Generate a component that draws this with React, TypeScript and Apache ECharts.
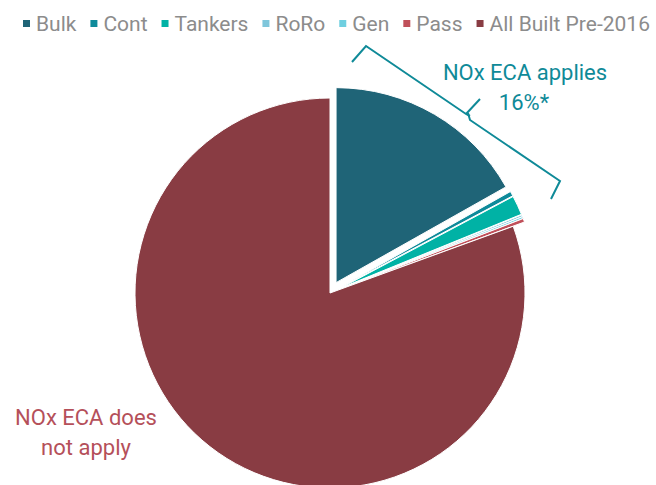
import React, { useEffect, useRef } from "react";
import * as echarts from "echarts";

const categories = ["Bulk", "Cont", "Tankers", "RoRo", "Gen", "Pass", "All Built Pre-2016"];
const values = [16.8, 0.4, 1.6, 0.15, 0.15, 0.3, 80.4];
const colors = ["#1f6477", "#0e8a9a", "#00b2a5", "#7fc6db", "#6fcfe0", "#c0505a", "#893c43"];
const exploded = [true, true, true, true, true, true, false];

const ecaText = ["NOx ECA applies", "16%*"];
const noEcaText = ["NOx ECA does", "not apply"];
const mainPct = "84%";

export default function App() {
  const ref = useRef<HTMLDivElement>(null);
  useEffect(() => {
    const chart = echarts.init(ref.current!, null, { renderer: "svg" });
    const teal = "#0f8a98";
    const txt = (x: number, y: number, text: string, fill: string, size: number) => ({
      type: "text",
      x,
      y,
      style: {
        text,
        fill,
        fontSize: size,
        fontFamily: "Roboto",
        align: "center",
        verticalAlign: "middle",
      },
    });
    chart.setOption({
      animation: false,
      textStyle: { fontFamily: "Roboto" },
      legend: {
        top: 8,
        left: 16,
        right: 0,
        padding: [5, 0, 5, 5],
        icon: "rect",
        itemWidth: 9,
        itemHeight: 9,
        itemGap: 12,
        textStyle: { color: "#8c8c8c", fontSize: 21, fontFamily: "Roboto" },
        data: categories,
      },
      series: [
        {
          type: "pie",
          center: [330, 293],
          radius: 195,
          startAngle: 90,
          clockwise: true,
          selectedMode: "multiple",
          selectedOffset: 12,
          label: { show: false },
          labelLine: { show: false },
          emphasis: { disabled: true },
          itemStyle: { borderColor: "#ffffff", borderWidth: 1 },
          data: categories.map((c, i) => ({
            name: c,
            value: values[i],
            selected: exploded[i],
            itemStyle: { color: colors[i] },
          })),
        },
      ],
      graphic: [
        {
          type: "polyline",
          shape: { points: [[352, 62], [366, 46], [466, 114], [470, 116]] },
          style: { stroke: teal, lineWidth: 2, fill: null },
        },
        {
          type: "polyline",
          shape: { points: [[466, 114], [480, 99]] },
          style: { stroke: teal, lineWidth: 2, fill: null },
        },
        {
          type: "polyline",
          shape: { points: [[468, 113], [470, 120], [560, 181], [551, 199]] },
          style: { stroke: teal, lineWidth: 2, fill: null },
        },
        txt(525, 72, ecaText[0], teal, 22),
        txt(524, 102, ecaText[1], teal, 22),
        txt(86, 417, noEcaText[0], "#b5505a", 22),
        txt(86, 447, noEcaText[1], "#b5505a", 22),
        txt(317, 374, mainPct, "#ffffff", 21),
      ],
    });
    return () => chart.dispose();
  }, []);
  return (
    <div
      ref={ref}
      style={{ position: "absolute", left: 0, top: 0, width: 656, height: 485 }}
    />
  );
}
